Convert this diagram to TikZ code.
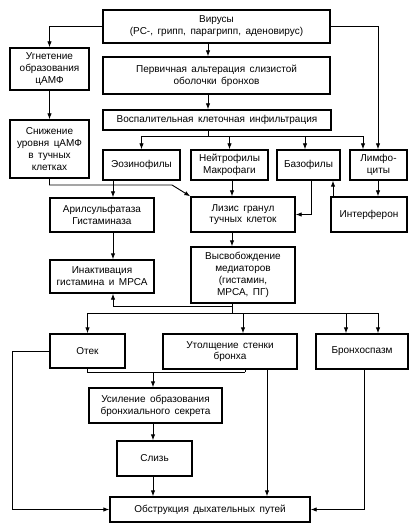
\documentclass[tikz,border=0pt]{standalone}
\usepackage{fontspec}
\setmainfont{Liberation Sans}
\usetikzlibrary{arrows.meta}
\newcommand{\boxfont}{\fontsize{10pt}{11.8pt}\selectfont\spaceskip=0.45em plus 0.1em\relax}
\begin{document}
\begin{tikzpicture}[x=1pt,y=-1pt,
  box/.style={draw, line width=1.4pt, align=center, inner sep=1pt, font=\boxfont},
  arr/.style={-{Latex[length=6pt,width=4.5pt]}, line width=0.9pt},
  ln/.style={line width=0.9pt}]
\useasboundingbox (0,0) rectangle (415,529);
% boxes
\node[box, minimum width=227pt, minimum height=33pt] (vir) at (216.5,26.5) {Вирусы\\(РС-, грипп, парагрипп, аденовирус)};
\node[box, minimum width=79pt, minimum height=42pt] (ugn) at (49.5,69) {Угнетение\\образования\\цАМФ};
\node[box, minimum width=227pt, minimum height=37pt] (perv) at (216.5,75.5) {Первичная альтерация слизистой\\оболочки бронхов};
\node[box, minimum width=228pt, minimum height=20pt] (vosp) at (217,120) {Воспалительная клеточная инфильтрация};
\node[box, minimum width=79pt, minimum height=58pt] (sniz) at (49.5,149) {Снижение\\уровня цАМФ\\в тучных\\клетках};
\node[box, minimum width=77pt, minimum height=30pt] (eoz) at (141.5,165) {Эозинофилы};
\node[box, minimum width=77pt, minimum height=30pt] (neu) at (229.5,165) {Нейтрофилы\\Макрофаги};
\node[box, minimum width=63pt, minimum height=30pt] (baz) at (308.5,165) {Базофилы};
\node[box, minimum width=57pt, minimum height=30pt] (lim) at (378.5,165) {Лимфо-\\циты};
\node[box, minimum width=104pt, minimum height=34pt] (aril) at (102,215) {Арилсульфатаза\\Гистаминаза};
\node[box, minimum width=104pt, minimum height=35pt] (liz) at (243,214.5) {Лизис гранул\\тучных клеток};
\node[box, minimum width=76pt, minimum height=35pt] (int) at (369,214.5) {Интерферон};
\node[box, minimum width=104pt, minimum height=33pt] (inakt) at (102,276.5) {Инактивация\\гистамина и МРСА};
\node[box, minimum width=104pt, minimum height=56pt] (vysv) at (243,275) {Высвобождение\\медиаторов\\(гистамин,\\МРСА, ПГ)};
\node[box, minimum width=75pt, minimum height=34pt] (otek) at (87.5,351) {Отек};
\node[box, minimum width=134pt, minimum height=35pt] (utol) at (230,351.5) {Утолщение стенки\\бронха};
\node[box, minimum width=92pt, minimum height=35pt] (bron) at (362,351.5) {Бронхоспазм};
\node[box, minimum width=133pt, minimum height=35pt] (usil) at (155.5,405.5) {Усиление образования\\бронхиального секрета};
\node[box, minimum width=75pt, minimum height=35pt] (sliz) at (154.5,458.5) {Слизь};
\node[box, minimum width=200pt, minimum height=25pt] (obstr) at (210,509.5) {Обструкция дыхательных путей};
% column coordinates
\coordinate (c12) at (12,0);
\coordinate (c113) at (113,0);
\coordinate (c153) at (153,0);
\coordinate (cB) at (208,0);
\coordinate (c232) at (232,0);
\coordinate (c243) at (243,0);
\coordinate (c267) at (267,0);
\coordinate (c305) at (305,0);
\coordinate (c311) at (311,0);
\coordinate (c333) at (333,0);
\coordinate (c346) at (346,0);
\coordinate (c363) at (363,0);
\coordinate (c364) at (364,0);
\coordinate (c378) at (378,0);
\coordinate (b1) at (208,136);
\coordinate (k1) at (172,185);
\coordinate (b2) at (232,306);
\coordinate (b3) at (232,313);
\coordinate (j2) at (245,372);
% connectors
\draw[arr] (vir.west) -| (ugn.north);
\draw[arr] (vir.east) -| (lim.north -| c378);
\draw[arr] (vir.south -| cB) -- (perv.north -| cB);
\draw[arr] (perv.south -| cB) -- (vosp.north -| cB);
\draw[ln] (vosp.south -| cB) -- (b1);
\draw[arr] (b1) -| (eoz.north);
\draw[arr] (b1) -| (neu.north);
\draw[arr] (b1) -| (baz.north -| c305);
\draw[arr] (b1) -| (lim.north -| c363);
\draw[arr] (ugn.south) -- (sniz.north);
\draw[arr] (sniz.south) |- (k1) -- (liz.north west);
\draw[arr] (eoz.south -| c113) -- (aril.north -| c113);
\draw[arr] (neu.south -| c232) -- (liz.north -| c232);
\draw[arr] (baz.south -| c311) |- (liz.east);
\draw[arr] (int.north -| c333) -- (baz.south -| c333);
\draw[arr] (lim.south -| c378) -- (int.north -| c378);
\draw[arr] (aril.south -| c113) -- (inakt.north -| c113);
\draw[arr] (liz.south -| c232) -- (vysv.north -| c232);
\draw[ln] (vysv.south -| c232) -- (b3);
\draw[arr] (b2) -| (inakt.south -| c113);
\draw[arr] (b3) -| (otek.north);
\draw[arr] (b3) -| (utol.north -| c243);
\draw[arr] (b3) -| (bron.north -| c346);
\draw[arr] (b3) -| (bron.north -| c378);
\draw[arr] (otek.west) -| (c12 |- obstr.west) -- (obstr.west);
\draw[ln] (otek.south) |- (j2);
\draw[ln] (utol.south -| j2) -- (j2);
\draw[arr] (c153 |- j2) -- (usil.north -| c153);
\draw[arr] (usil.south -| c153) -- (sliz.north -| c153);
\draw[arr] (sliz.south -| c153) -- (obstr.north -| c153);
\draw[arr] (utol.south -| c267) -- (obstr.north -| c267);
\draw[arr] (bron.south -| c364) |- (obstr.east);
\end{tikzpicture}
\end{document}
